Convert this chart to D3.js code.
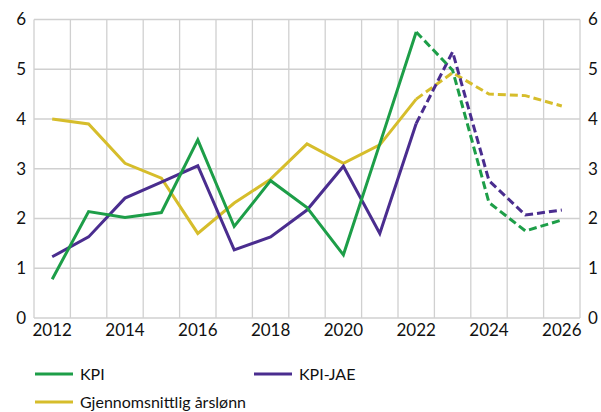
<!DOCTYPE html>
<html><head><meta charset="utf-8">
<script src="https://cdn.jsdelivr.net/npm/d3@7"></script>
<style>
html,body{margin:0;padding:0;background:#fff;}
svg{display:block;font-family:Lato,sans-serif;}
</style></head>
<body>
<svg id="chart" width="601" height="412"></svg>
<script>
const years = [2012,2013,2014,2015,2016,2017,2018,2019,2020,2021,2022,2023,2024,2025,2026];
const tickYears = [2012,2014,2016,2018,2020,2022,2024,2026];
const yTicks = [0,1,2,3,4,5,6];
const kpi = [0.78,2.14,2.02,2.12,3.58,1.84,2.76,2.22,1.27,3.5,5.75,4.98,2.32,1.75,1.97];
const kpiJae = [1.23,1.63,2.41,2.73,3.06,1.37,1.63,2.17,3.05,1.70,3.91,5.35,2.76,2.07,2.17];
const lonn = [4.0,3.90,3.11,2.81,1.70,2.31,2.79,3.50,3.11,3.48,4.40,4.93,4.50,4.47,4.26];
const lastActual = 2022;
const seriesNames = ["KPI","KPI-JAE","Gjennomsnittlig årslønn"];
const colors = ["#1d9e48","#4a2d8f","#d6bd2b"];

const svg = d3.select("#chart");
const L = 34, R = 580, T = 19.5, B = 318;
const FONT = "Lato, sans-serif", FS = 17, LFS = 16;
const x = d3.scaleBand().domain(years).range([L,R]).paddingInner(0).paddingOuter(0);
const y = d3.scaleLinear().domain([0,6]).range([B,T]);
const cx = d => x(d) + x.bandwidth()/2;

const grid = svg.append("g");
const bounds = years.map(d => x(d)).concat([R]);
grid.selectAll("line.v").data(bounds).join("line")
  .attr("x1", d=>d).attr("x2", d=>d).attr("y1", T).attr("y2", B)
  .attr("stroke","#d0d0d0").attr("stroke-width",1.3);
grid.selectAll("line.h").data(yTicks).join("line")
  .attr("x1", L).attr("x2", R).attr("y1", d=>y(d)).attr("y2", d=>y(d))
  .attr("stroke","#d0d0d0").attr("stroke-width",1.3);

const yl = d3.axisLeft(y).tickValues(yTicks).tickFormat(d3.format("d")).tickSize(0).tickPadding(8);
const gl = svg.append("g").attr("transform",`translate(${L},0)`).call(yl);
const yr = d3.axisRight(y).tickValues(yTicks).tickFormat(d3.format("d")).tickSize(0).tickPadding(8);
const gr = svg.append("g").attr("transform",`translate(${R},0)`).call(yr);
const xb = d3.axisBottom(x).tickValues(tickYears).tickFormat(d3.format("d")).tickSize(0).tickPadding(6);
const gb = svg.append("g").attr("transform",`translate(0,${B})`).call(xb);
[gl,gr,gb].forEach(g=>{
  g.select(".domain").remove();
  g.selectAll("text").attr("font-family",FONT).attr("font-size",FS).attr("fill","#111");
});

const all = [kpi,kpiJae,lonn];
const line = d3.line().x(d=>cx(d.year)).y(d=>y(d.v));
[2,1,0].forEach(i=>{
  const pts = years.map((yr,j)=>({year:yr, v:all[i][j]}));
  const solid = pts.filter(p=>p.year<=lastActual);
  const dashed = pts.filter(p=>p.year>=lastActual);
  svg.append("path").attr("d",line(solid)).attr("fill","none")
    .attr("stroke",colors[i]).attr("stroke-width",3);
  svg.append("path").attr("d",line(dashed)).attr("fill","none")
    .attr("stroke",colors[i]).attr("stroke-width",3).attr("stroke-dasharray","8,4");
});

const legPos = [[35,374],[254,374],[35,402]];
seriesNames.forEach((n,i)=>{
  const g = svg.append("g").attr("transform",`translate(${legPos[i][0]},${legPos[i][1]})`);
  g.append("line").attr("x1",0).attr("x2",38).attr("y1",0).attr("y2",0)
    .attr("stroke",colors[i]).attr("stroke-width",3);
  g.append("text").attr("x",45).attr("y",0).attr("dy","0.35em")
    .attr("font-family",FONT).attr("font-size",LFS).attr("fill","#111").text(n);
});
</script>
</body></html>
